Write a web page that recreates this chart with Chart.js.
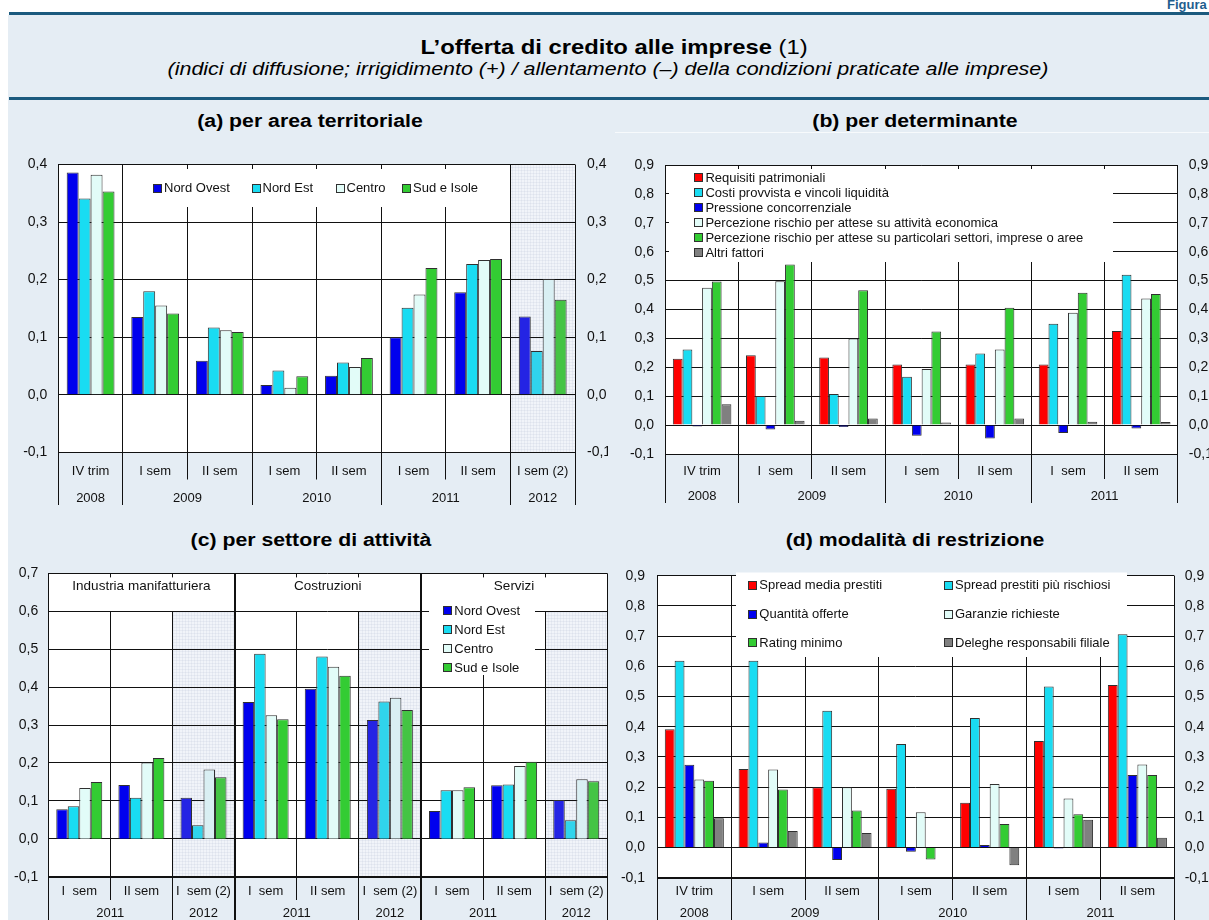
<!DOCTYPE html>
<html><head><meta charset="utf-8">
<script src="https://cdn.jsdelivr.net/npm/chart.js@4.4.1/dist/chart.umd.min.js"></script>
<style>
html,body{margin:0;padding:0;background:#fff;width:1209px;height:920px;overflow:hidden;position:relative;font-family:"Liberation Sans",Arial,sans-serif;}
#bg{position:absolute;left:8px;top:15px;right:0;bottom:0;background:#e5edf4;}
.line{position:absolute;left:9px;right:0;height:3px;background:#1b5a7e;}
.t{position:absolute;white-space:nowrap;line-height:1;color:#000;transform:translateX(-50%) scaleX(1.16);}
canvas{position:absolute;}
</style></head><body>
<div id="bg"></div>
<div style="position:absolute;left:1167px;top:-2px;font:bold 13px 'Liberation Sans',Arial;color:#1f5e8e;white-space:nowrap;line-height:1">Figura 1</div>
<div class="line" style="top:12px"></div>
<div class="line" style="top:97px"></div>
<div class="t" style="left:614px;top:37px;font-size:20.5px;"><b>L’offerta di credito alle imprese</b> (1)</div>
<div class="t" style="left:608px;top:60px;font-size:18.5px;font-style:italic;">(indici di diffusione; irrigidimento (+) / allentamento (–) della condizioni praticate alle imprese)</div>
<div class="t" style="left:310px;top:111.5px;font-size:18px;font-weight:bold;transform:translateX(-50%) scaleX(1.18)">(a) per area territoriale</div>
<div class="t" style="left:915px;top:111.5px;font-size:18px;font-weight:bold;transform:translateX(-50%) scaleX(1.18)">(b) per determinante</div>
<div class="t" style="left:311px;top:531px;font-size:18px;font-weight:bold;transform:translateX(-50%) scaleX(1.18)">(c) per settore di attività</div>
<div class="t" style="left:915px;top:531px;font-size:18px;font-weight:bold;transform:translateX(-50%) scaleX(1.18)">(d) modalità di restrizione</div>
<div style="position:absolute;left:615px;right:0;top:132px;height:1px;background:rgba(255,255,255,0.7)"></div>
<script>
// ---------------- DATA ----------------
// (a) per area territoriale
const catsA = ['IV trim','I sem','II sem','I sem','II sem','I sem','II sem','I sem (2)'];
const yearsA = ['2008','2009','2010','2011','2012'];
const yearSpanA = [1,2,2,2,1];
const seriesNamesA = ['Nord Ovest','Nord Est','Centro','Sud e Isole'];
const nordOvestA = [0.386, 0.135, 0.059, 0.017, 0.033, 0.100, 0.178, 0.136];
const nordEstA   = [0.341, 0.180, 0.117, 0.042, 0.056, 0.151, 0.227, 0.076];
const centroA    = [0.382, 0.155, 0.112, 0.012, 0.048, 0.174, 0.234, 0.201];
const sudIsoleA  = [0.353, 0.141, 0.109, 0.032, 0.064, 0.220, 0.236, 0.165];
const yRangeA = [-0.1, 0.4];

// (b) per determinante
const catsB = ['IV trim','I  sem','II sem','I  sem','II sem','I  sem','II sem'];
const yearsB = ['2008','2009','2010','2011'];
const yearSpanB = [1,2,2,2];
const seriesNamesB = ['Requisiti patrimoniali','Costi provvista e vincoli liquidità','Pressione concorrenziale',
  'Percezione rischio per attese su attività economica','Percezione rischio per attese su particolari settori, imprese o aree','Altri fattori'];
const requisitiB   = [0.230, 0.242, 0.234, 0.210, 0.210, 0.210, 0.326];
const costiB       = [0.262, 0.101, 0.108, 0.167, 0.248, 0.351, 0.520];
const pressioneB   = [-0.005, -0.015, -0.007, -0.037, -0.046, -0.027, -0.012];
const percAttB     = [0.475, 0.498, 0.300, 0.194, 0.262, 0.389, 0.438];
const percSettB    = [0.497, 0.556, 0.467, 0.324, 0.406, 0.458, 0.454];
const altriB       = [0.072, 0.015, 0.023, 0.009, 0.023, 0.012, 0.011];
const yRangeB = [-0.1, 0.9];

// (c) per settore di attività
const sectorsC = ['Industria manifatturiera','Costruzioni','Servizi'];
const sectorSpanC = [3,3,3];
const catsC = ['I  sem','II sem','I  sem (2)','I  sem','II sem','I  sem (2)','I  sem','II sem','I  sem (2)'];
const yearsC = ['2011','2012','2011','2012','2011','2012'];
const yearSpanC = [2,1,2,1,2,1];
const seriesNamesC = ['Nord Ovest','Nord Est','Centro','Sud e Isole'];
const nordOvestC = [0.078, 0.142, 0.108, 0.361, 0.396, 0.313, 0.073, 0.141, 0.102];
const nordEstC   = [0.086, 0.108, 0.036, 0.488, 0.481, 0.362, 0.128, 0.143, 0.049];
const centroC    = [0.134, 0.201, 0.183, 0.326, 0.454, 0.372, 0.128, 0.192, 0.157];
const sudIsoleC  = [0.150, 0.213, 0.162, 0.315, 0.430, 0.340, 0.136, 0.203, 0.152];
const yRangeC = [-0.1, 0.7];

// (d) modalità di restrizione
const catsD = ['IV trim','I sem','II sem','I sem','II sem','I sem','II sem'];
const yearsD = ['2008','2009','2010','2011'];
const yearSpanD = [1,2,2,2];
const seriesNamesD = ['Spread media prestiti','Spread prestiti più rischiosi','Quantità offerte','Garanzie richieste','Rating minimo','Deleghe responsabili filiale'];
const spreadMediaD = [0.392, 0.260, 0.200, 0.195, 0.148, 0.353, 0.538];
const spreadRischD = [0.619, 0.619, 0.453, 0.343, 0.429, 0.533, 0.706];
const quantitaD    = [0.274, 0.017, -0.041, -0.014, 0.008, -0.003, 0.240];
const garanzieD    = [0.225, 0.258, 0.200, 0.117, 0.210, 0.162, 0.275];
const ratingD      = [0.221, 0.192, 0.123, -0.040, 0.078, 0.110, 0.240];
const delegheD     = [0.097, 0.055, 0.048, 0.002, -0.059, 0.092, 0.032];
const yRangeD = [-0.1, 0.9];

// ---------------- STYLE ----------------
const FONT = '"Liberation Sans", Arial, Helvetica, sans-serif';
const BLUE='#0000ee', CYAN='#19dcf2', LIGHT='#e2fcf8', GREEN='#33cc33', RED='#ff0000', GREY='#808080';
const MUTED = {[BLUE]:'#2424e4',[CYAN]:'#30d4ec',[LIGHT]:'#d9eff3',[GREEN]:'#44c444'};
const INK = '#111';

function fmt(v){ if (Math.abs(v) < 1e-9) v = 0; return v.toFixed(1).replace('.', ','); }
function cumBounds(spans){ const s=new Set(); let c=0; spans.forEach(v=>{c+=v; s.add(c);}); return s; }
function bound(chart,k){
  const x=chart.scales.x, a=chart.chartArea, n=chart.data.labels.length;
  if (k<=0) return a.left; if (k>=n) return a.right;
  return (x.getPixelForValue(k-1)+x.getPixelForValue(k))/2;
}
function crisp(v){ return Math.round(v-0.5)+0.5; }
let patternCache=null;
function shade(ctx){
  if (!patternCache){
    const pc=document.createElement('canvas'); pc.width=3; pc.height=3;
    const g=pc.getContext('2d'); g.fillStyle='#f1f4f9'; g.fillRect(0,0,3,3);
    g.fillStyle='#e6eaf2'; g.fillRect(0,0,3,1); g.fillRect(0,0,1,3);
    g.fillStyle='#dde2ec'; g.fillRect(0,0,1,1);
    patternCache=pc;
  }
  return ctx.createPattern(patternCache,'repeat');
}

function panelPlugin(p){
  const ox=p.cl, oy=p.ct;
  const yearB = cumBounds(p.yearSpan);
  const sectB = p.sectorSpan ? cumBounds(p.sectorSpan) : new Set();
  const typeOf = k => sectB.has(k) ? 'sector' : (yearB.has(k) ? 'year' : 'cat');
  function ln(ctx,x1,y1,x2,y2){ ctx.beginPath(); ctx.moveTo(x1,y1); ctx.lineTo(x2,y2); ctx.stroke(); }
  return {
    id:'panelDeco',
    beforeDraw(chart){
      const {ctx, chartArea:a} = chart; const y=chart.scales.y;
      ctx.save();
      ctx.fillStyle='#fff'; ctx.fillRect(a.left,a.top,a.right-a.left,a.bottom-a.top);
      ctx.fillStyle=shade(ctx);
      const st = p.headerVal!=null ? y.getPixelForValue(p.headerVal) : a.top;
      p.shaded.forEach(k=>{ const l=bound(chart,k), r=bound(chart,k+1); ctx.fillRect(l, st, r-l, a.bottom-st); });
      ctx.restore();
    },
    beforeDatasetsDraw(chart){
      const {ctx, chartArea:a} = chart; const y=chart.scales.y; const n=chart.data.labels.length;
      const cb=p.catBottom-oy, yb=p.yearBottom-oy;
      const hy = p.headerVal!=null ? Math.round(y.getPixelForValue(p.headerVal)) : a.top;
      ctx.save(); ctx.strokeStyle=INK; ctx.lineWidth=1;
      for (let k=1;k<n;k++){
        const t=typeOf(k); const xx=crisp(bound(chart,k));
        if (t==='sector'){ ctx.lineWidth=2; ln(ctx,Math.round(bound(chart,k)),a.top,Math.round(bound(chart,k)),yb); ctx.lineWidth=1; }
        else {
          ln(ctx,xx,hy,xx,t==='year'?yb:cb);
          if (p.headerVal!=null) ln(ctx,xx,a.top,xx,a.top+4);
        }
      }
      // legend box
      const b=p.legendBox;
      ctx.fillStyle='#fff'; ctx.fillRect(b[0]-ox,b[1]-oy,b[2]-b[0],b[3]-b[1]);
      ctx.font='13px '+FONT; ctx.textBaseline='middle'; ctx.textAlign='left';
      chart.data.datasets.forEach((ds,i)=>{
        const [lx,ly]=p.legendPos[i]; const sx=Math.round(lx-ox)+0.5, sy=Math.round(ly-oy-4.5)+0.5;
        ctx.fillStyle=ds.baseColor; ctx.fillRect(sx,sy,8,8);
        ctx.strokeStyle='#303030'; ctx.strokeRect(sx,sy,8,8);
        ctx.fillStyle=INK; ctx.fillText(ds.label, lx-ox+11, ly-oy+0.5);
      });
      // sector headers
      if (p.sectors){
        ctx.font='13.5px '+FONT; ctx.textAlign='center'; ctx.fillStyle=INK;
        let c=0; p.sectors.forEach((s,i)=>{ const l=bound(chart,c), r=bound(chart,c+p.sectorSpan[i]); ctx.fillText(s,(l+r)/2,p.sectorY-oy); c+=p.sectorSpan[i]; });
      }
      ctx.restore();
    },
    afterDatasetsDraw(chart){
      const {ctx, chartArea:a} = chart; const yb=p.yearBottom-oy;
      ctx.save(); ctx.strokeStyle=INK; ctx.lineWidth=1;
      ln(ctx,crisp(a.left),a.top,crisp(a.left),yb);
      ln(ctx,crisp(a.right),a.top,crisp(a.right),yb);
      if (p.thickBottom){ ctx.lineWidth=2; ln(ctx,a.left,Math.round(a.bottom),a.right,Math.round(a.bottom)); }
      ctx.restore();
    },
    afterDraw(chart){
      const {ctx} = chart; const x=chart.scales.x;
      ctx.save(); ctx.font='13px '+FONT; ctx.fillStyle=INK; ctx.textAlign='center'; ctx.textBaseline='middle';
      chart.data.labels.forEach((l,k)=> ctx.fillText(l, x.getPixelForValue(k), p.catY-oy));
      let c=0; p.years.forEach((yv,i)=>{ const l=bound(chart,c), r=bound(chart,c+p.yearSpan[i]); ctx.fillText(yv,(l+r)/2,p.yearY-oy); c+=p.yearSpan[i]; });
      ctx.restore();
    }
  };
}

function makePanel(p){
  const cv=document.createElement('canvas');
  cv.width=p.cw; cv.height=p.ch;
  cv.style.left=p.cl+'px'; cv.style.top=p.ct+'px'; cv.style.width=p.cw+'px'; cv.style.height=p.ch+'px';
  document.body.appendChild(cv);
  const ox=p.cl, oy=p.ct;
  const datasets=p.series.map(s=>({
    label:s.name, data:s.data, baseColor:s.color,
    backgroundColor:p.labels.map((_,k)=> p.shaded.includes(k) ? (MUTED[s.color]||s.color) : s.color),
    borderColor:'#303030', borderWidth:1,
    categoryPercentage:p.catPct, barPercentage:1.0, yAxisID:'y'
  }));
  const tickFont={size:14, family:FONT};
  const scales={
    x:{display:false},
    y:{position:'left', min:p.range[0], max:p.range[1],
       afterFit(sc){ sc.width=p.x0-ox; },
       ticks:{stepSize:0.1, padding:p.padL, font:tickFont, color:INK, callback:fmt},
       grid:{color:INK, lineWidth:1, drawTicks:false}, border:{display:false}}
  };
  if (p.right){
    scales.y2={position:'right', min:p.range[0], max:p.range[1],
       afterFit(sc){ sc.width=ox+p.cw-p.x1; },
       ticks:{stepSize:0.1, padding:p.padR, font:tickFont, color:INK, callback:fmt},
       grid:{display:false, drawTicks:false}, border:{display:false}};
  }
  new Chart(cv,{
    type:'bar',
    data:{labels:p.labels, datasets},
    options:{
      responsive:false, animation:false, events:[], devicePixelRatio:1,
      layout:{padding:{top:p.y0-oy, bottom:oy+p.ch-p.y1, left:0, right:p.right?0:(ox+p.cw-p.x1)}},
      plugins:{legend:{display:false}, tooltip:{enabled:false}},
      scales
    },
    plugins:[panelPlugin(p)]
  });
}

makePanel({
  cl:8, ct:140, cw:600, ch:380, x0:58.3, x1:575, y0:164.5, y1:452.3,
  range:yRangeA, labels:catsA, years:yearsA, yearSpan:yearSpanA,
  series:[{name:seriesNamesA[0],data:nordOvestA,color:BLUE},{name:seriesNamesA[1],data:nordEstA,color:CYAN},
          {name:seriesNamesA[2],data:centroA,color:LIGHT},{name:seriesNamesA[3],data:sudIsoleA,color:GREEN}],
  shaded:[7], catPct:0.74, padL:11, padR:12, right:true,
  catY:471.7, yearY:498, catBottom:479.5, yearBottom:505,
  legendBox:[128,169,494,207], legendPos:[[153,188],[251.5,188],[335.5,188],[402,188]]
});

makePanel({
  cl:608, ct:140, cw:601, ch:380, x0:665.5, x1:1177.8, y0:165, y1:454,
  range:yRangeB, labels:catsB, years:yearsB, yearSpan:yearSpanB,
  series:[{name:seriesNamesB[0],data:requisitiB,color:RED},{name:seriesNamesB[1],data:costiB,color:CYAN},
          {name:seriesNamesB[2],data:pressioneB,color:BLUE},{name:seriesNamesB[3],data:percAttB,color:LIGHT},
          {name:seriesNamesB[4],data:percSettB,color:GREEN},{name:seriesNamesB[5],data:altriB,color:GREY}],
  shaded:[], catPct:0.80, padL:11.5, padR:11, right:true,
  catY:471.7, yearY:496, catBottom:479, yearBottom:503,
  legendBox:[669,169,1113,262],
  legendPos:[[694.4,177.7],[694.4,192.7],[694.4,207.7],[694.4,222.7],[694.4,237.7],[694.4,252.7]]
});

makePanel({
  cl:8, ct:555, cw:600, ch:365, x0:48.2, x1:607.3, y0:566.7, y1:876.7,
  range:yRangeC, labels:catsC, years:yearsC, yearSpan:yearSpanC,
  sectors:sectorsC, sectorSpan:sectorSpanC, sectorY:586.7, headerVal:0.6,
  series:[{name:seriesNamesC[0],data:nordOvestC,color:BLUE},{name:seriesNamesC[1],data:nordEstC,color:CYAN},
          {name:seriesNamesC[2],data:centroC,color:LIGHT},{name:seriesNamesC[3],data:sudIsoleC,color:GREEN}],
  shaded:[2,5,8], catPct:0.74, padL:10, right:false, thickBottom:true,
  catY:891, yearY:913, catBottom:900, yearBottom:920,
  legendBox:[429,600,535,675], legendPos:[[443.3,610.7],[443.3,629.7],[443.3,648.7],[443.3,667.7]]
});

makePanel({
  cl:608, ct:555, cw:601, ch:365, x0:657.4, x1:1174.3, y0:568.3, y1:877.7,
  range:yRangeD, labels:catsD, years:yearsD, yearSpan:yearSpanD,
  series:[{name:seriesNamesD[0],data:spreadMediaD,color:RED},{name:seriesNamesD[1],data:spreadRischD,color:CYAN},
          {name:seriesNamesD[2],data:quantitaD,color:BLUE},{name:seriesNamesD[3],data:garanzieD,color:LIGHT},
          {name:seriesNamesD[4],data:ratingD,color:GREEN},{name:seriesNamesD[5],data:delegheD,color:GREY}],
  shaded:[], catPct:0.80, padL:12.4, padR:10.4, right:true, thickBottom:true,
  catY:891, yearY:913, catBottom:900, yearBottom:920,
  legendBox:[736,572.5,1127,657],
  legendPos:[[748.3,585.3],[944,585.3],[748.3,614.3],[944,614.3],[748.3,642.7],[944,642.7]]
});
</script>
</body></html>
